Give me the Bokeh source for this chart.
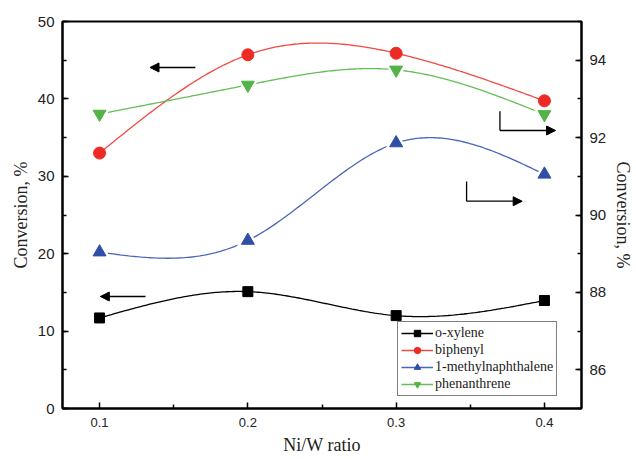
import numpy as np
from bokeh.plotting import figure
from bokeh.models import (Range1d, LinearAxis, FixedTicker, SingleIntervalTicker,
                          Legend, LegendItem, Arrow, NormalHead, ColumnDataSource)
from bokeh.embed import file_html
from bokeh.resources import INLINE

# ---- data ----
ratio = [0.1, 0.2, 0.3, 0.4]
o_xylene = [11.7, 15.1, 12.0, 13.95]            # left axis
biphenyl = [33.0, 45.7, 45.9, 39.75]            # left axis
methylnaphthalene = [89.04, 89.34, 91.86, 91.05]  # right axis
phenanthrene = [92.61, 93.36, 93.75, 92.60]      # right axis

x_ticks = [0.1, 0.2, 0.3, 0.4]
x_minor = [0.15, 0.25, 0.35]

# annotation arrows in data units (left axis)
left_arrows = [(0.1646, 44.06, 0.134, 44.06), (0.131, 14.47, 0.1005, 14.47)]
right_arrows = [(0.370, 38.41, 0.370, 35.92, 0.4075), (0.3475, 29.33, 0.3475, 26.78, 0.385)]


def natural_spline(xs, ys, n=200):
    xs = np.asarray(xs, float); ys = np.asarray(ys, float)
    k = len(xs); h = np.diff(xs)
    A = np.zeros((k, k)); b = np.zeros(k)
    A[0, 0] = 1; A[-1, -1] = 1
    for i in range(1, k - 1):
        A[i, i - 1] = h[i - 1]; A[i, i] = 2 * (h[i - 1] + h[i]); A[i, i + 1] = h[i]
        b[i] = 6 * ((ys[i + 1] - ys[i]) / h[i] - (ys[i] - ys[i - 1]) / h[i - 1])
    M = np.linalg.solve(A, b)
    xx = np.linspace(xs[0], xs[-1], n); yy = np.empty_like(xx)
    for j, t in enumerate(xx):
        i = min(np.searchsorted(xs, t, side="right") - 1, k - 2)
        a = xs[i + 1] - t; c = t - xs[i]
        yy[j] = (M[i] * a ** 3 + M[i + 1] * c ** 3) / (6 * h[i]) + \
                (ys[i] / h[i] - M[i] * h[i] / 6) * a + (ys[i + 1] / h[i] - M[i + 1] * h[i] / 6) * c
    return xx, yy


p = figure(width=636, height=459, output_backend="svg", toolbar_location=None,
           x_range=Range1d(0.075, 0.425), y_range=Range1d(0, 50),
           min_border_left=62, min_border_right=54, min_border_top=21, min_border_bottom=51)
p.extra_y_ranges = {"right": Range1d(85, 95)}
p.grid.visible = False
p.outline_line_color = "black"
p.outline_line_width = 2
p.background_fill_color = "white"
p.border_fill_color = "white"

tick_font = "Liberation Sans"
label_font = "Liberation Serif"

xa = p.xaxis[0]
xa.ticker = FixedTicker(ticks=x_ticks, minor_ticks=x_minor)
xa.axis_label = "Ni/W ratio"
ya = p.yaxis[0]
ya.ticker = SingleIntervalTicker(interval=10, num_minor_ticks=2)
ya.axis_label = "Conversion, %"
ra = LinearAxis(y_range_name="right", ticker=SingleIntervalTicker(interval=2, num_minor_ticks=2),
                axis_label="Conversion, %")
p.add_layout(ra, "right")

for ax, fs in ((xa, "13px"), (ya, "15px"), (ra, "15px")):
    ax.axis_line_width = 2
    ax.axis_line_color = "black"
    ax.major_tick_in = 6
    ax.major_tick_out = 0
    ax.minor_tick_in = 4
    ax.minor_tick_out = 0
    ax.major_tick_line_width = 1.5
    ax.minor_tick_line_width = 1.5
    ax.major_label_text_font = tick_font
    ax.major_label_text_font_size = fs
    ax.major_label_text_color = "#222222"
    ax.major_label_standoff = 8
    ax.axis_label_text_font = label_font
    ax.axis_label_text_font_size = "18px"
    ax.axis_label_text_font_style = "normal"
    ax.axis_label_text_color = "#222222"
    ax.axis_label_standoff = 4
xa.major_label_standoff = 9
xa.axis_label_standoff = 5

series = [
    ("o-xylene", o_xylene, "default", "black", "black", "square", 10, False),
    ("biphenyl", biphenyl, "default", "#f04a44", "#ee2a24", "circle", 12, False),
    ("1-methylnaphthalene", methylnaphthalene, "right", "#4a64b8", "#2e4fa5", "triangle", 13, True),
    ("phenanthrene", phenanthrene, "right", "#64be58", "#52b447", "inverted_triangle", 13, True),
]

items = []
for name, ys, rng, lc, mc, mk, sz, gap in series:
    xx, yy = natural_spline(ratio, ys)
    ln = p.line(xx, yy, line_color=lc, line_width=1.3, y_range_name=rng)
    src = ColumnDataSource(dict(x=ratio, y=ys))
    if gap:
        p.scatter("x", "y", source=src, marker=mk, size=sz + 8, fill_color="white",
                  line_color="white", y_range_name=rng)
    sc = p.scatter("x", "y", source=src, marker=mk, size=sz, fill_color=mc, line_color=mc,
                   y_range_name=rng)
    items.append(LegendItem(label=name, renderers=[ln, sc]))

for x0, y0, x1, y1 in left_arrows:
    p.add_layout(Arrow(x_start=x0, y_start=y0, x_end=x1, y_end=y1, line_width=1.3,
                       line_color="black",
                       end=NormalHead(size=9, fill_color="black", line_color="black")))
for xv, yt, _, yb, xe in right_arrows:
    p.segment(x0=[xv], y0=[yt], x1=[xv], y1=[yb], line_color="black", line_width=1.3)
    p.add_layout(Arrow(x_start=xv, y_start=yb, x_end=xe, y_end=yb, line_width=1.3,
                       line_color="black",
                       end=NormalHead(size=9, fill_color="black", line_color="black")))

legend = Legend(items=items, location=(335, 12))
legend.label_text_font = label_font
legend.label_text_font_size = "14px"
legend.label_text_color = "#222222"
legend.border_line_color = "black"
legend.border_line_width = 1
legend.background_fill_alpha = 1
legend.padding = 3
legend.spacing = 1
legend.margin = 0
legend.glyph_width = 32
legend.glyph_height = 16
legend.label_height = 16
legend.label_standoff = 2
p.add_layout(legend)

open("out.html", "w").write(file_html(p, INLINE))
